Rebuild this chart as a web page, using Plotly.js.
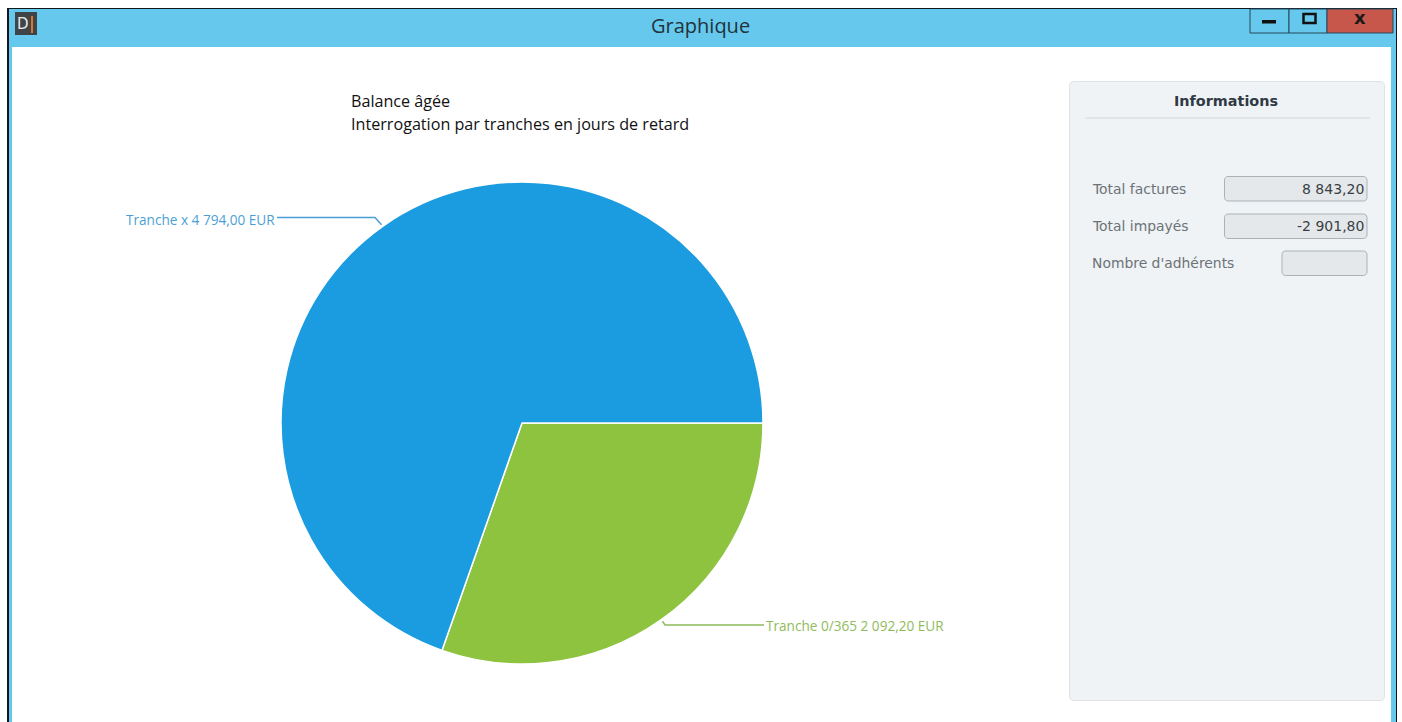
<!DOCTYPE html>
<html lang="fr">
<head>
<meta charset="utf-8">
<title>Graphique</title>
<script src="https://cdn.plot.ly/plotly-3.0.1.min.js"></script>
<style>html,body{margin:0;padding:0;background:#fff;overflow:hidden}#chart{width:1402px;height:722px}</style>
</head>
<body>
<div id="chart"></div>
<script>
// Aged balance, in euros per bracket of days overdue
const trancheNames = ['Tranche 0/365', 'Tranche x'];
const trancheValues = [2092.20, 4794.00];
const trancheColors = ['#8DC33F', '#1B9BE0'];
const labelColors = ['#8FBB5C', '#4C9FD6'];
const chartTitleLines = ['Balance âgée', 'Interrogation par tranches en jours de retard'];
const infoLabels = ['Total factures', 'Total impayés', "Nombre d'adhérents"];
const infoValues = ['8 843,20', '-2 901,80', ''];

const W = 1402, H = 722;
const X = v => v / W;
const Y = v => 1 - v / H;

// Pie geometry on the page
const cx = 522, cy = 423, radius = 241;

// French number format: space-separated groups and a decimal comma
const euros = v => {
  const [i, d] = v.toFixed(2).split('.');
  return i.replace(/\B(?=(\d{3})+$)/g, ' ') + ',' + d;
};

const shapes = [];
const annotations = [];

const rect = (x0, y0, x1, y1, fill, line, lw) => shapes.push({
  type: 'rect', xref: 'paper', yref: 'paper', layer: 'below',
  x0: X(x0), x1: X(x1), y0: Y(y0), y1: Y(y1),
  fillcolor: fill, line: {color: line || fill, width: lw === undefined ? 0 : lw}
});
const toPath = pts => pts.map((p, i) => (i ? 'L' : 'M') + X(p[0]) + ',' + Y(p[1])).join(' ');
const polyline = (pts, color, lw) => shapes.push({
  type: 'path', xref: 'paper', yref: 'paper', layer: 'below',
  path: toPath(pts), line: {color, width: lw}
});
const roundRect = (x0, y0, x1, y1, r, fill, line) => {
  const k = r * 0.45;
  const c = (x, y) => X(x) + ',' + Y(y);
  shapes.push({
    type: 'path', xref: 'paper', yref: 'paper', layer: 'below',
    path: 'M' + c(x0 + r, y0) + ' L' + c(x1 - r, y0) +
      ' C' + c(x1 - k, y0) + ' ' + c(x1, y0 + k) + ' ' + c(x1, y0 + r) +
      ' L' + c(x1, y1 - r) +
      ' C' + c(x1, y1 - k) + ' ' + c(x1 - k, y1) + ' ' + c(x1 - r, y1) +
      ' L' + c(x0 + r, y1) +
      ' C' + c(x0 + k, y1) + ' ' + c(x0, y1 - k) + ' ' + c(x0, y1 - r) +
      ' L' + c(x0, y0 + r) +
      ' C' + c(x0, y0 + k) + ' ' + c(x0 + k, y0) + ' ' + c(x0 + r, y0) + ' Z',
    fillcolor: fill, line: {color: line, width: 1}
  });
};
const label = (x, y, text, opts) => annotations.push(Object.assign({
  xref: 'paper', yref: 'paper', x: X(x), y: Y(y), text, showarrow: false,
  xanchor: 'left', yanchor: 'middle', borderpad: 0, borderwidth: 0
}, opts));

// Window frame and title bar
const frame = '#66C8EC';
rect(7, 8, 1397, 722, '#10171C');
rect(9, 9, 1396, 722, frame);
rect(12, 47, 1391, 722, '#FFFFFF');
label(700.5, 25, 'Graphique', {
  xanchor: 'center', font: {family: 'Open Sans', size: 20, color: '#22333C'}
});

// Application icon
rect(15, 12, 37, 35, '#3E4447');
label(17, 24, 'D', {font: {family: 'DejaVu Sans', size: 15, color: '#E8E8E8'}});
rect(31, 16, 33, 33, '#D8762B');

// Window buttons
rect(1250, 9, 1289, 33, frame, '#24485A', 1);
rect(1289, 9, 1327, 33, frame, '#24485A', 1);
rect(1327, 9, 1393, 33, '#C8574B', '#24485A', 1);
rect(1262, 20, 1276, 23.5, '#111111');
rect(1303.5, 14, 1315.5, 23, 'rgba(0,0,0,0)', '#111111', 2.5);
label(1360, 18, 'x', {
  xanchor: 'center', font: {family: 'DejaVu Sans', size: 18, color: '#1A1A1A', weight: 700}
});

// Chart heading
chartTitleLines.forEach((line, i) => label(351, 101 + i * 23, line, {
  font: {family: 'Open Sans', size: 16.15, color: '#111111'}
}));

// Leader lines leave from the middle of each slice
const total = trancheValues.reduce((a, b) => a + b, 0);
const leaderEnds = [[665, 625, 764], [375, 217.5, 277]];
const textAnchors = [[766, 'left'], [275, 'right']];
let start = 0;
trancheValues.forEach((v, i) => {
  const mid = (start + v / 2) / total * 2 * Math.PI;
  start += v;
  const ax = cx + (radius + 2) * Math.cos(mid);
  const ay = cy + (radius + 2) * Math.sin(mid);
  const [ex, ey, tx] = leaderEnds[i];
  polyline([[ax, ay], [ex, ey], [tx, ey]], labelColors[i], 1.5);
  label(textAnchors[i][0], ey + (i ? 2 : 0), trancheNames[i] + ' ' + euros(v) + ' EUR', {
    xanchor: textAnchors[i][1],
    font: {family: 'Open Sans', size: 13.6, color: labelColors[i]}
  });
});

// Information panel
roundRect(1069.5, 81.5, 1384.5, 700.5, 4, '#EFF3F6', '#DFE3E6');
label(1226, 101, 'Informations', {
  xanchor: 'center', font: {family: 'DejaVu Sans', size: 14.4, color: '#2F3A44', weight: 700}
});
polyline([[1085, 118], [1370, 118]], '#D3D7DA', 1);

const boxes = [[1224.5, 176.5, 201], [1224.5, 214, 238.5], [1282, 251, 275.5]];
infoLabels.forEach((name, i) => {
  const [bx, by0, by1] = boxes[i];
  roundRect(bx, by0, 1367, by1, 3.5, '#E4E8EB', '#ABB1B5');
  label(1092, (by0 + by1) / 2, name, {
    font: {family: 'DejaVu Sans', size: 13.9, color: '#6C7277'}
  });
  if (infoValues[i]) label(1363.5, (by0 + by1) / 2, infoValues[i], {
    xanchor: 'right', font: {family: 'DejaVu Sans', size: 14, color: '#3A3F44'}
  });
});

const data = [{
  type: 'pie',
  labels: trancheNames,
  values: trancheValues,
  sort: false,
  direction: 'clockwise',
  rotation: 90,
  textinfo: 'none',
  hoverinfo: 'label+value',
  marker: {colors: trancheColors, line: {color: '#FFFFFF', width: 1.5}},
  domain: {x: [X(cx - radius), X(cx + radius)], y: [Y(cy + radius), Y(cy - radius)]}
}];

const layout = {
  width: W, height: H,
  margin: {l: 0, r: 0, t: 0, b: 0, pad: 0},
  paper_bgcolor: '#FFFFFF',
  showlegend: false,
  shapes, annotations
};

Plotly.newPlot('chart', data, layout, {displayModeBar: false, staticPlot: true});
</script>
</body>
</html>
